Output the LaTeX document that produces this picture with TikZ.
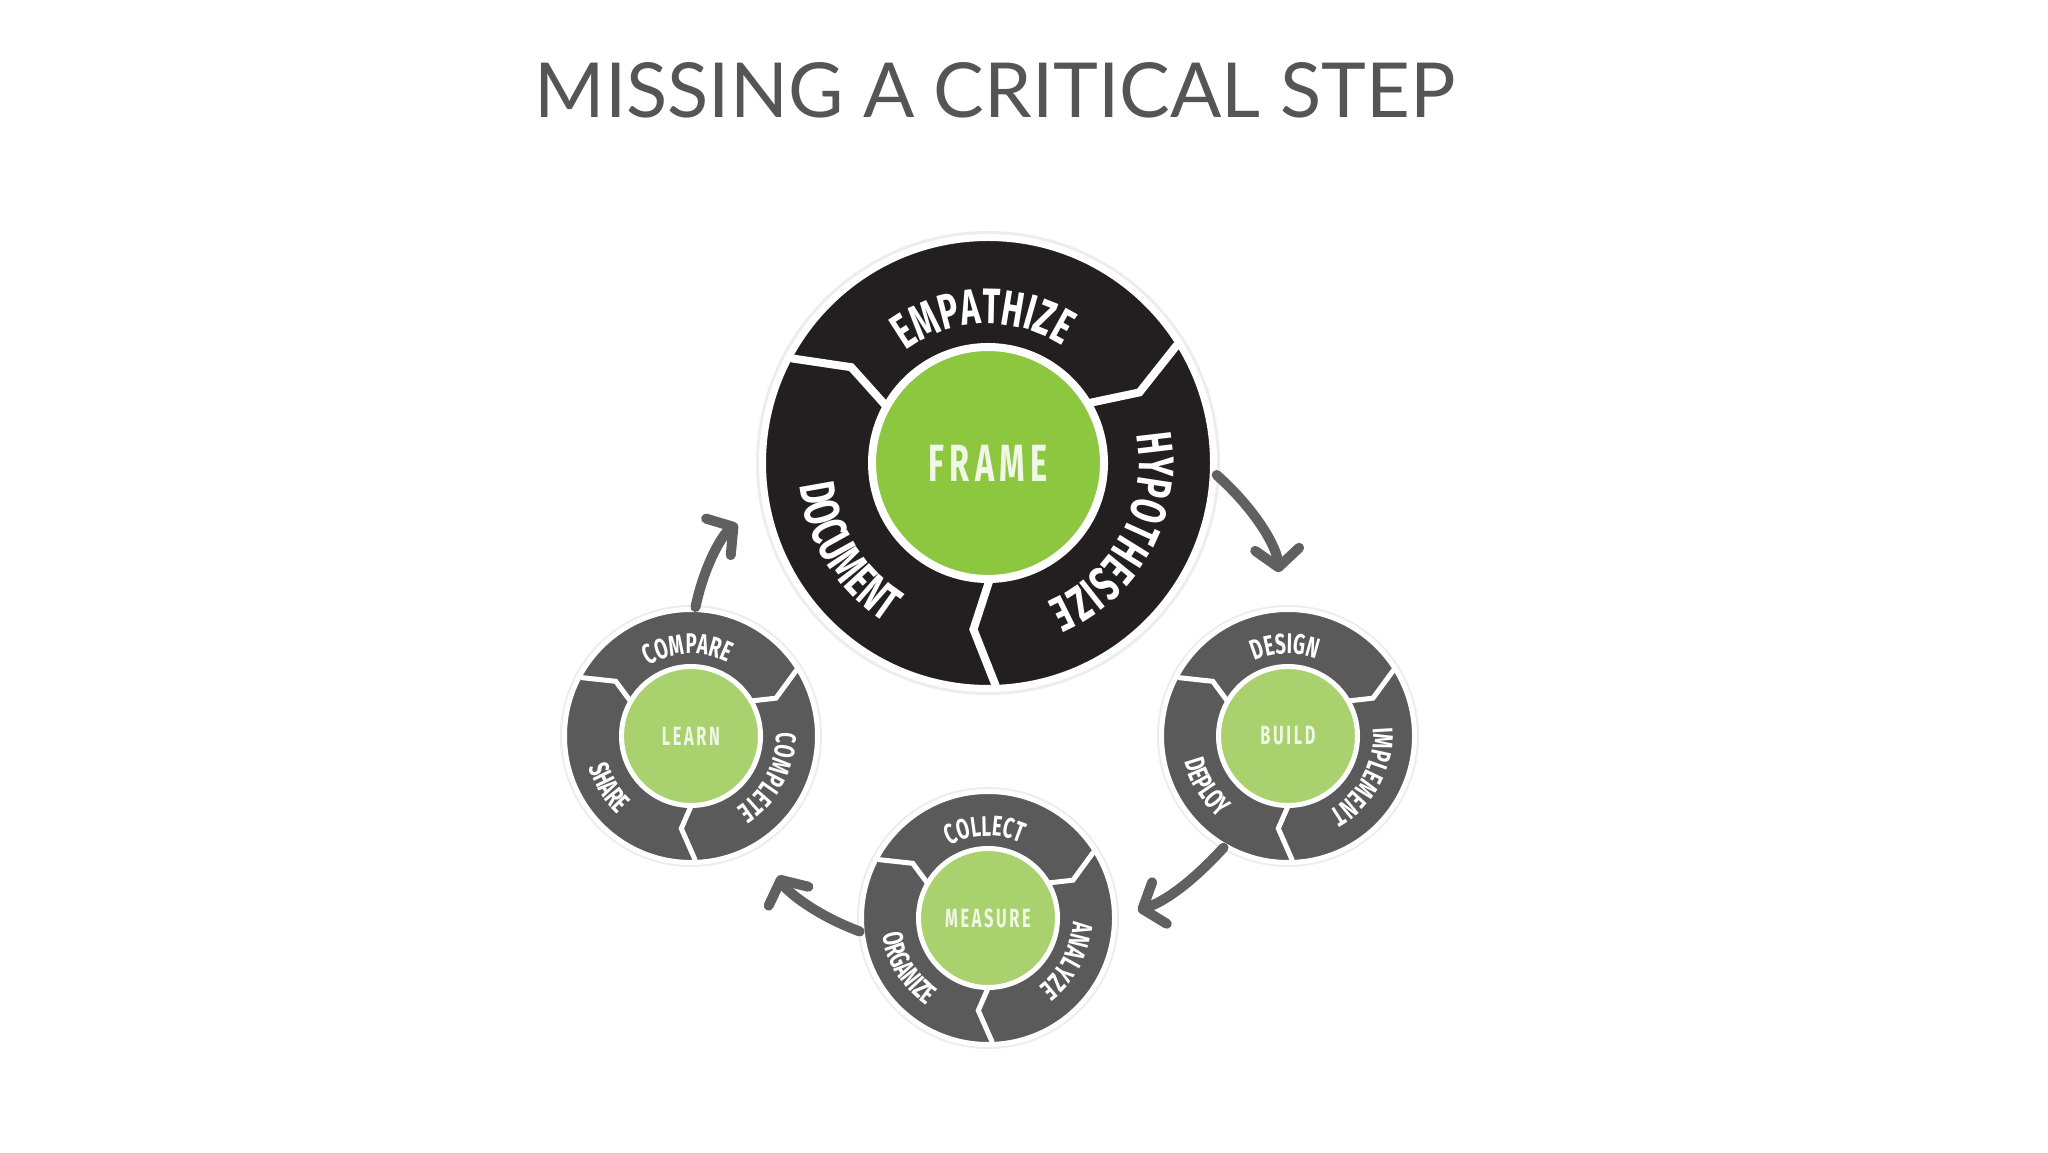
\documentclass[tikz,border=0pt]{standalone}
\usepackage{fontspec}
\setmainfont{Lato}
\newfontfamily\ringfont[FakeStretch=0.66]{Fira Sans}
\newfontfamily\hubfont[FakeStretch=0.62,LetterSpace=10]{Fira Sans}
\usepackage{xcolor}
\definecolor{cInk}{HTML}{231F20}
\definecolor{cSlate}{HTML}{5A5A5A}
\definecolor{cLime}{HTML}{8DC63F}
\definecolor{cLimeLt}{HTML}{A9D26F}
\definecolor{cPale}{HTML}{F0F7E6}
\definecolor{cArrow}{HTML}{606060}
\definecolor{cTitle}{HTML}{555555}
\usepackage{tikz}
\usetikzlibrary{positioning,arrows.meta,decorations.text}
\tikzset{
  wheel-big/.style={circle,fill=cInk,draw=white,line width=0.7mm,
    minimum size=45.1mm,inner sep=0pt,preaction={draw=black!7,line width=1.3mm}},
  wheel-small/.style={circle,fill=cSlate,draw=white,line width=0.5mm,
    minimum size=25.3mm,inner sep=0pt,preaction={draw=black!7,line width=0.9mm}},
  hub-big/.style={circle,fill=cLime,draw=white,line width=0.8mm,
    minimum size=23.2mm,inner sep=0pt,text=cPale,
    font=\hubfont\bfseries\fontsize{14.9}{16}\selectfont},
  hub-small/.style={circle,fill=cLimeLt,draw=white,line width=0.5mm,
    minimum size=13.9mm,inner sep=0pt,text=cPale,
    font=\hubfont\bfseries\fontsize{7.5}{9}\selectfont},
  gap-big/.style={draw=white,line width=0.8mm},
  gap-small/.style={draw=white,line width=0.5mm},
  flow/.style={-{Straight Barb[length=1.8mm,width=4.4mm,round]},
    line width=1mm,draw=cArrow,line cap=round},
  head-title/.style={font=\fontsize{21.6}{24}\selectfont,text=cTitle},
}
% word set along an arc of a wheel: node, start, end, radius, font, word
\newcommand\ringword[6]{%
  \path[decorate,decoration={text along path,text align=center,
      text color=white,text={|#5|#6}}]
    ([shift={(#2:#4)}]#1.center) arc[start angle=#2,end angle=#3,radius=#4];}
\newcommand\bigword{\ringfont\bfseries\fontsize{14.2}{15}\selectfont}
\newcommand\smallword{\ringfont\bfseries\fontsize{8.1}{9}\selectfont}

\begin{document}
\begin{tikzpicture}[x=1mm,y=1mm]
  \fill[white] (0,0) rectangle (204.8,115.2);
  \useasboundingbox (0,0) rectangle (204.8,115.2);

  \node[head-title,anchor=base] (title) at (99.5,103.4) {MISSING A CRITICAL STEP};

  % wheels
  \node[wheel-big]   (frame-wheel)   at (98.8,68.9)  {};
  \node[wheel-small] (build-wheel)   at (128.8,41.6) {};
  \node[wheel-small] (measure-wheel) at (98.8,23.4)  {};
  \node[wheel-small] (learn-wheel)   at (69.1,41.6)  {};

  \foreach \a in {152,32,-88}
    \draw[gap-big] ([shift={(\a:11)}]frame-wheel.center)
      -- ([shift={({\a-7}:16.7)}]frame-wheel.center)
      -- ([shift={(\a:22.3)}]frame-wheel.center);
  \foreach \w in {build,measure,learn}
    \foreach \a in {152,32,-88}
      \draw[gap-small] ([shift={(\a:6.5)}]\w-wheel.center)
        -- ([shift={({\a-8}:9.3)}]\w-wheel.center)
        -- ([shift={(\a:12.45)}]\w-wheel.center);

  % hubs
  \node[hub-big]   (frame)   at (frame-wheel)   {FRAME};
  \node[hub-small] (build)   at (build-wheel)   {BUILD};
  \node[hub-small] (measure) at (measure-wheel) {MEASURE};
  \node[hub-small] (learn)   at (learn-wheel)   {LEARN};

  \ringword{frame}{152}{32}{13.9}{\bigword}{EMPATHIZE}
  \ringword{frame}{32}{-88}{15.1}{\bigword}{HYPOTHESIZE}
  \ringword{frame}{152}{272}{19.0}{\bigword}{DOCUMENT}
  \ringword{build}{152}{32}{8.2}{\smallword}{DESIGN}
  \ringword{build}{32}{-88}{8.5}{\smallword}{IMPLEMENT}
  \ringword{build}{152}{272}{10.7}{\smallword}{DEPLOY}
  \ringword{measure}{152}{32}{8.2}{\smallword}{COLLECT}
  \ringword{measure}{32}{-88}{8.5}{\smallword}{ANALYZE}
  \ringword{measure}{152}{272}{10.7}{\smallword}{ORGANIZE}
  \ringword{learn}{152}{32}{8.2}{\smallword}{COMPARE}
  \ringword{learn}{32}{-88}{8.5}{\smallword}{COMPLETE}
  \ringword{learn}{152}{272}{10.7}{\smallword}{SHARE}

  % cycle
  \draw[flow,shorten >=3.5mm] (frame-wheel.-3) to[bend left=22] (build-wheel.93);
  \draw[flow,shorten >=2.2mm] (build-wheel.240) to[bend left=14] (measure-wheel.0);
  \draw[flow,shorten >=3.6mm] (measure-wheel.186) to[bend left=22] (learn-wheel.-56);
  \draw[flow,shorten >=3.1mm] (learn-wheel.88) to[bend left=22] (frame-wheel.191);
\end{tikzpicture}
\end{document}
